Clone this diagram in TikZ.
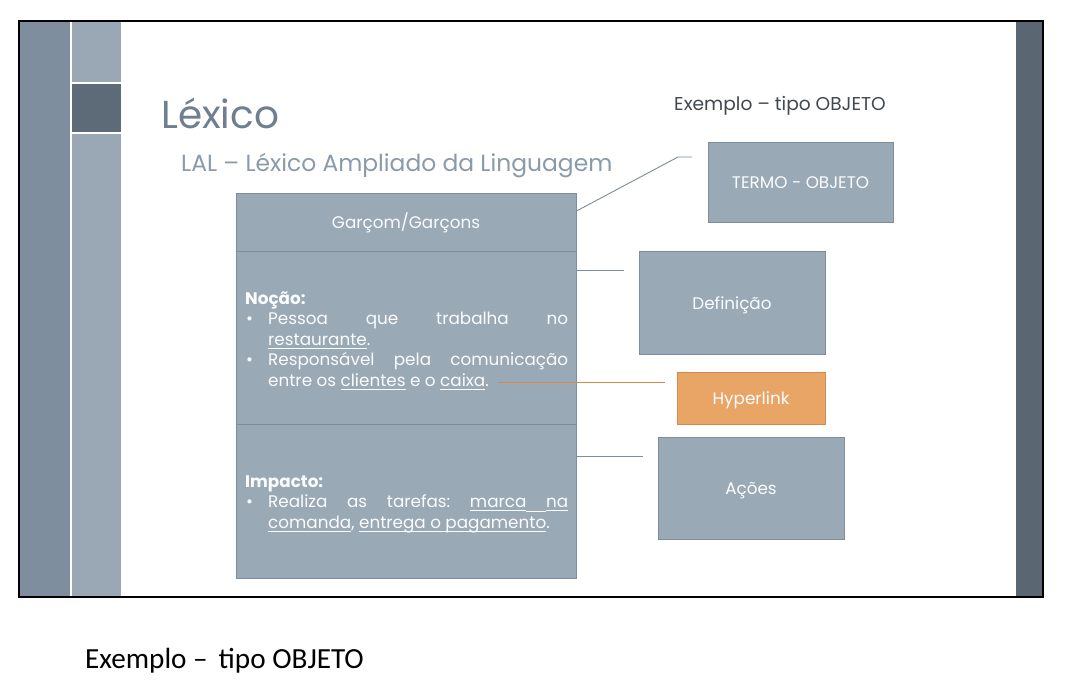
\documentclass[tikz,border=0pt]{standalone}
\usepackage{fontspec}
\setmainfont{Poppins}
\newfontfamily\capfont{Carlito}
\definecolor{barA}{HTML}{7E8E9E}
\definecolor{barB}{HTML}{9AA8B5}
\definecolor{barSq}{HTML}{5D6A78}
\definecolor{barR}{HTML}{5A6672}
\definecolor{boxfill}{HTML}{9AA9B6}
\definecolor{boxline}{HTML}{7E8D9C}
\definecolor{boxtext}{HTML}{FBFCFD}
\definecolor{titlec}{HTML}{6E7F90}
\definecolor{subc}{HTML}{8B9AAA}
\definecolor{darktext}{HTML}{404850}
\definecolor{connc}{HTML}{7F8C99}
\definecolor{orangefill}{HTML}{E9A566}
\definecolor{orangeline}{HTML}{D38A4E}
\tikzset{
  box/.style={draw=boxline, line width=1pt, fill=boxfill, text=boxtext, inner sep=0pt,
    text height=13pt, text depth=0pt, font=\fontsize{16.8}{20}\selectfont},
  hbox/.style={box, fill=orangefill, draw=orangeline},
  conn/.style={draw=connc, line width=0.9pt},
  oconn/.style={draw=orangeline, line width=0.9pt},
  bodytext/.style={anchor=base west, inner sep=0pt, text=boxtext}
}
\newcommand{\bul}{\par\hangindent=23pt\hangafter=1\noindent\makebox[23pt][l]{\hspace{1pt}•}}
\newcommand{\myul}[1]{\setbox0\hbox{#1}\rlap{\rule[-3.4pt]{\wd0}{0.75pt}}\box0\relax}
\newcommand{\ulspace}{\leaders\vrule height -3.4pt depth 4.15pt\hskip\fontdimen2\font plus\fontdimen3\font minus\fontdimen4\font\relax}
\begin{document}
\begin{tikzpicture}[x=1pt,y=-1pt]
\useasboundingbox (0,0) rectangle (1078,691);
\fill[white] (0,0) rectangle (1078,691);
% slide background bars
\fill[barA] (19,21) rectangle (70,597);
\fill[barB] (72,21) rectangle (121,597);
\fill[barSq] (72,84) rectangle (121,132);
\draw[white, line width=1.5pt] (71,21) -- (71,597);
\draw[white, line width=1.5pt] (72,83) -- (121,83);
\draw[white, line width=1.5pt] (72,133) -- (121,133);
\fill[barR] (1016,21) rectangle (1043,597);
\draw[black, line width=1.6pt] (19,21) rectangle (1043,597);
% titles
\node[anchor=base west, inner sep=0pt, text=titlec, font=\fontsize{39}{44}\selectfont] (title) at (161,128) {Léxico};
\node[anchor=base west, inner sep=0pt, text=subc, font=\fontsize{23.4}{28}\selectfont] (subtitle) at (181,171) {LAL – Léxico Ampliado da Linguagem};
\node[anchor=base west, inner sep=0pt, text=darktext, font=\fontsize{18.6}{22}\selectfont] (exemplo) at (674,110) {Exemplo – tipo OBJETO};
% main boxes
\node[box, minimum width=340pt, minimum height=58pt] (garcom) at (406,222) {Garçom/Garçons};
\node[box, minimum width=340pt, minimum height=173pt] (nocao) at (406,337.5) {};
\node[box, minimum width=340pt, minimum height=154pt] (impacto) at (406,501) {};
\node[bodytext] (nocaotext) at (245,304) {\begin{minipage}[t]{323pt}\fontsize{16.8}{20.5}\selectfont\parindent=0pt\frenchspacing
\textbf{Noção:}
\bul Pessoa que trabalha no\linebreak \myul{restaurante}.
\bul Responsável pela comunicação\linebreak entre os \myul{clientes} e o \myul{caixa}.
\end{minipage}};
\node[bodytext] (impactotext) at (245,487) {\begin{minipage}[t]{323pt}\fontsize{16.8}{20.5}\selectfont\parindent=0pt\frenchspacing
\textbf{Impacto:}
\bul Realiza as tarefas: \myul{marca}\ulspace\myul{na}\linebreak \myul{comanda}, \myul{entrega}\ulspace\myul{o}\ulspace\myul{pagamento}.
\end{minipage}};
% right boxes
\node[box, minimum width=185pt, minimum height=80pt] (termo) at (800.5,182) {TERMO - OBJETO};
\node[box, minimum width=186pt, minimum height=103pt] (defin) at (732,302.5) {Definição};
\node[hbox, minimum width=148pt, minimum height=52pt] (hyper) at (751,398) {Hyperlink};
\node[box, minimum width=186pt, minimum height=102pt] (acoes) at (751,488) {Ações};
% connectors
\coordinate (tbend) at (678,157);
\coordinate (tend) at (692,157);
\coordinate (dend) at (624,270);
\coordinate (hstart) at (498,382);
\coordinate (hend) at (665,382);
\coordinate (aend) at (643,456);
\draw[conn] ([yshift=11pt]garcom.east) -- (tbend) -- (tend);
\draw[conn] ([yshift=67.5pt]nocao.east) -- (dend);
\draw[oconn] (hstart) -- (hend);
\draw[conn] ([yshift=45pt]impacto.east) -- (aend);
% caption
\node[anchor=base west, inner sep=0pt, font=\capfont\fontsize{29.2}{33}\selectfont] (caption) at (85,668) {Exemplo –\hspace{0.15em} tipo OBJETO};
\end{tikzpicture}
\end{document}
